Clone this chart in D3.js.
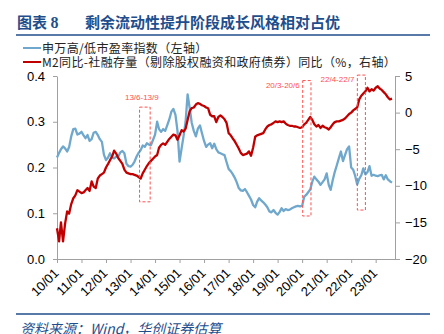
<!DOCTYPE html>
<html><head><meta charset="utf-8">
<script src="https://cdn.jsdelivr.net/npm/d3@7"></script>
<style>body{margin:0;background:#fff}svg{display:block}</style>
</head><body><svg id="c" width="444" height="334"></svg>
<script>
// ---- data ----
const startYear = 2010; // monthly series start: 2010-01
const blueName = "申万高/低市盈率指数（左轴）";
const redName = "M2同比-社融存量（剔除股权融资和政府债券）同比（%，右轴）";
const blueValues = [
 0.222,0.232,0.240,0.246,0.242,0.235,0.245,0.268,0.284,0.285,0.272,0.274,
 0.278,0.270,0.264,0.271,0.258,0.262,0.276,0.278,0.271,0.262,0.256,0.228,
 0.216,0.222,0.231,0.222,0.220,0.224,0.224,0.233,0.236,0.231,0.208,0.203,
 0.202,0.206,0.213,0.224,0.232,0.238,0.248,0.245,0.253,0.250,0.249,0.260,
 0.272,0.300,0.284,0.278,0.284,0.280,0.292,0.305,0.322,0.328,0.315,0.280,
 0.213,0.242,0.268,0.300,0.360,0.330,0.298,0.280,0.268,0.285,0.292,0.275,
 0.258,0.245,0.250,0.253,0.242,0.252,0.240,0.233,0.231,0.229,0.227,0.212,
 0.197,0.192,0.186,0.178,0.168,0.155,0.150,0.149,0.153,0.146,0.138,0.130,
 0.118,0.113,0.125,0.133,0.128,0.124,0.119,0.113,0.104,0.102,0.107,0.101,
 0.097,0.103,0.111,0.105,0.109,0.107,0.108,0.111,0.113,0.115,0.116,0.115,
 0.116,0.136,0.140,0.146,0.152,0.169,0.180,0.174,0.169,0.162,0.168,0.174,
 0.187,0.162,0.151,0.172,0.190,0.205,0.220,0.235,0.214,0.227,0.240,0.246,
 0.200,0.195,0.182,0.163,0.175,0.183,0.198,0.185,0.190,0.203,0.182,0.184,
 0.182,0.181,0.183,0.184,0.174,0.183,0.174,0.170,0.167
];
const redValues = [
 -15.8,-17.6,-15.0,-17.6,-15.2,-13.5,-13.8,-12.5,-11.7,-11.3,-10.6,-10.8,
 -11.0,-10.9,-10.6,-10.3,-10.7,-9.4,-10.1,-10.3,-9.0,-8.6,-8.4,-8.2,
 -7.5,-7.0,-6.5,-6.0,-5.2,-5.6,-6.2,-6.6,-7.0,-7.8,-8.2,-8.3,
 -8.4,-8.4,-8.5,-8.6,-8.8,-9.0,-8.3,-7.8,-7.3,-6.9,-6.6,-6.3,
 -6.0,-5.8,-4.8,-4.4,-4.2,-4.4,-4.0,-3.6,-3.3,-3.0,-3.1,-3.7,
 -3.1,-2.4,-2.6,-2.2,-1.0,0.2,0.6,0.7,1.1,1.3,1.2,1.0,
 0.9,0.7,0.6,-0.3,-0.5,-0.5,-1.3,-0.6,-0.4,-0.6,-0.9,-1.4,
 -2.8,-3.1,-3.5,-3.9,-4.4,-4.9,-5.5,-5.8,-5.7,-5.6,-5.3,-5.9,
 -4.8,-3.3,-3.1,-3.0,-2.9,-2.8,-2.3,-1.9,-1.7,-1.6,-1.4,-1.2,
 -1.3,-1.2,-1.3,-1.2,-1.5,-1.7,-1.8,-1.8,-1.9,-1.9,-2.0,-2.1,
 -2.0,-1.6,-1.4,-1.0,-0.6,-1.0,-1.6,-1.9,-1.7,-2.1,-1.8,-2.0,
 -2.1,-2.3,-2.0,-1.6,-1.3,-1.2,-1.2,-1.1,-1.0,-0.8,-0.5,-0.2,
 0.0,0.3,0.5,0.7,1.8,2.3,2.6,2.9,3.4,2.9,3.2,3.0,
 3.4,3.6,3.3,3.1,2.8,2.5,2.1,1.8,1.9
];
const xTickLabels = ["10/01","11/01","12/01","13/01","14/01","15/01","16/01","17/01","18/01","19/01","20/01","21/01","22/01","23/01"];
const leftTicks = [0.0,0.1,0.2,0.3,0.4];
const rightTicks = [-20,-15,-10,-5,0,5];
const windowLabels = ["13/6-13/9","20/3-20/6","22/4-22/7"];
const windowStart = ["2013-05-15","2020-01-10","2022-04-03"];
const windowEnd = ["2013-10-20","2020-05-12","2022-08-01"];
const windowTop = [0.332,0.390,0.402];
const windowBottom = [0.125,0.094,0.107];
const windowLabelAnchor = ["middle","end","end"];

// ---- chart ----
const svg = d3.select("#c");
const navy = "#1F4E8C", blue = "#6FA8CC", red = "#C00000", dashRed = "#FF5050";
const cjk = "'Noto Sans CJK SC', sans-serif";
const num = "'Liberation Sans', Arial, sans-serif";

const parse = d3.timeParse("%Y-%m-%d");
const monthDate = i => new Date(startYear, i, 1);
const x = d3.scaleTime().domain([new Date(2010,0,1), new Date(2023,9,16)]).range([57,395]);
const yL = d3.scaleLinear().domain([0,0.4]).range([259,76]);
const yR = d3.scaleLinear().domain([-20,5]).range([259,76]);

// title
const t1 = svg.append("text").attr("x",17).attr("y",28).attr("fill",navy)
  .style("font-family",cjk).style("font-weight","bold").style("font-size","15px");
t1.append("tspan").text("图表 ");
t1.append("tspan").style("font-family","'Liberation Serif', serif").style("font-size","16px").text("8");
svg.append("text").attr("x",85).attr("y",28).attr("fill",navy)
  .style("font-family",cjk).style("font-weight","bold").style("font-size","15px").text("剩余流动性提升阶段成长风格相对占优");
svg.append("line").attr("x1",16).attr("x2",430).attr("y1",35).attr("y2",35).attr("stroke",navy).attr("stroke-width",1.5);

// legend
const leg = [{name:blueName,color:blue,y:48},{name:redName,color:red,y:62}];
leg.forEach(l=>{
  svg.append("line").attr("x1",23).attr("x2",41).attr("y1",l.y).attr("y2",l.y).attr("stroke",l.color).attr("stroke-width",2);
  svg.append("text").attr("x",42).attr("y",l.y+4.5).attr("fill","#222")
    .style("font-family",cjk).style("font-size","12px").style("letter-spacing","0.35px").text(l.name);
});

// axes
const axisColor = "#A0A0A0";
function styleAxis(g){
  g.selectAll("path,line").attr("stroke",axisColor);
  g.selectAll("text").attr("fill","#000").style("font-family",num).style("font-size","13px");
}
const gl = svg.append("g").attr("transform","translate(57,0)")
  .call(d3.axisLeft(yL).tickValues(leftTicks).tickFormat(d3.format(".1f")).tickSize(4).tickSizeOuter(0).tickPadding(8));
styleAxis(gl);
const gr = svg.append("g").attr("transform","translate(395,0)")
  .call(d3.axisRight(yR).tickValues(rightTicks).tickFormat(d3.format("d")).tickSize(5).tickSizeOuter(0).tickPadding(5));
styleAxis(gr);
const tickDates = xTickLabels.map((s,i)=>new Date(2010+i,0,1));
const gx = svg.append("g").attr("transform","translate(0,259)")
  .call(d3.axisBottom(x).tickValues(tickDates).tickFormat((d,i)=>xTickLabels[i]).tickSize(4).tickSizeOuter(0));
styleAxis(gx);
gx.selectAll("text").attr("y",0).attr("dy",0).attr("text-anchor","end")
  .attr("transform","translate(2,15) rotate(-45)");

// lines
const blueLine = d3.line().x((d,i)=>x(monthDate(i))).y(d=>yL(d));
const redLine = d3.line().x((d,i)=>x(monthDate(i))).y(d=>yR(d));
svg.append("path").datum(blueValues).attr("d",blueLine).attr("fill","none").attr("stroke",blue).attr("stroke-width",2.3).attr("stroke-linejoin","round");
svg.append("path").datum(redValues).attr("d",redLine).attr("fill","none").attr("stroke",red).attr("stroke-width",2.3).attr("stroke-linejoin","round");

// windows
windowLabels.forEach((lab,i)=>{
  const x0 = x(parse(windowStart[i])), x1 = x(parse(windowEnd[i]));
  const y0 = yL(windowTop[i]), y1 = yL(windowBottom[i]);
  svg.append("rect").attr("x",x0).attr("y",y0).attr("width",x1-x0).attr("height",y1-y0)
    .attr("fill","none").attr("stroke",dashRed).attr("stroke-width",1).attr("stroke-dasharray","3,2");
  const anchor = windowLabelAnchor[i];
  svg.append("text").attr("x", anchor==="middle" ? (x0+x1)/2 - 3 : x0-3)
    .attr("y", anchor==="middle" ? y0-7 : y0+7).attr("text-anchor",anchor)
    .attr("fill",dashRed).style("font-family",num).style("font-size","8px").text(lab);
});

// footer
svg.append("line").attr("x1",16).attr("x2",430).attr("y1",314).attr("y2",314).attr("stroke",navy).attr("stroke-width",1.5);
svg.append("text").attr("x",20).attr("y",334).attr("fill",navy)
  .style("font-family",cjk).style("font-style","italic").style("font-size","14px").text("资料来源：Wind，华创证券估算");
</script></body></html>
